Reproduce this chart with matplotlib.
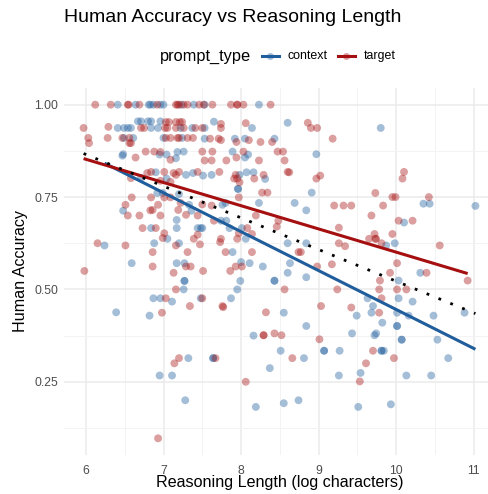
import numpy as np
import matplotlib
matplotlib.use('Agg')
import matplotlib.pyplot as plt
from matplotlib.lines import Line2D
from matplotlib.ticker import FixedLocator

plt.rcParams['font.family'] = ['Liberation Sans', 'DejaVu Sans']

title = "Human Accuracy vs Reasoning Length"
x_label = "Reasoning Length (log characters)"
y_label = "Human Accuracy"
legend_title = "prompt_type"
groups = ["context", "target"]
x_ticks = [6, 7, 8, 9, 10, 11]
y_ticks = [0.25, 0.50, 0.75, 1.00]
y_tick_labels = ["0.25", "0.50", "0.75", "1.00"]

context_points = [
    (6.41,1.0),(6.64,1.0),(6.81,1.0),(6.83,1.0),(6.87,1.0),(6.96,1.0),(7.00,1.0),(7.23,1.0),(7.39,1.0),(7.53,1.0),(8.23,1.0),
    (6.67,0.955),(6.71,0.955),(6.80,0.955),(6.84,0.955),(6.96,0.955),(7.65,0.954),(8.60,0.951),
    (6.41,0.937),(6.49,0.937),(6.54,0.937),(6.58,0.937),(6.84,0.937),(6.93,0.937),(7.22,0.937),(7.37,0.937),(7.53,0.937),(8.14,0.937),(9.80,0.937),
    (6.49,0.91),(6.61,0.91),(7.00,0.91),(7.24,0.91),(7.53,0.908),(7.92,0.908),(8.05,0.908),(8.43,0.908),
    (6.48,0.866),(6.47,0.862),(6.95,0.865),(7.04,0.865),(7.18,0.872),(7.26,0.873),(7.16,0.855),(7.89,0.873),(8.97,0.866),(8.09,0.865),(8.05,0.857),
    (6.71,0.802),(6.90,0.817),(7.04,0.80),(7.29,0.81),(7.38,0.815),(7.51,0.808),(7.62,0.81),(7.98,0.81),(8.07,0.817),(8.16,0.817),(8.31,0.799),
    (7.96,0.772),(7.96,0.772),(8.91,0.762),
    (6.92,0.761),(6.99,0.761),(7.20,0.758),(7.33,0.729),(8.23,0.734),(8.69,0.734),(7.76,0.729),(7.80,0.734),(8.84,0.714),
    (6.48,0.713),(7.36,0.713),(7.17,0.688),(7.74,0.686),(7.81,0.686),
    (6.84,0.666),(7.17,0.666),(7.44,0.666),(7.48,0.666),(7.50,0.666),(7.85,0.666),(8.01,0.666),
    (7.05,0.637),(6.88,0.625),(6.24,0.619),(7.20,0.625),(8.06,0.637),(8.60,0.625),(8.84,0.625),
    (10.10,0.681),(10.35,0.732),(10.43,0.732),(11.02,0.726),(9.87,0.619),(9.98,0.625),
    (7.89,0.601),(6.59,0.571),(7.17,0.571),(7.27,0.571),(8.00,0.574),(8.11,0.571),(8.28,0.562),(8.63,0.571),(8.60,0.545),(8.84,0.533),(8.43,0.524),
    (10.31,0.545),(10.03,0.524),
    (7.27,0.523),(7.27,0.523),(7.26,0.50),(6.87,0.476),(6.96,0.476),(7.11,0.467),(7.48,0.476),(6.39,0.438),(6.82,0.429),
    (7.99,0.523),(8.43,0.523),(7.95,0.50),(7.87,0.476),(8.55,0.437),(8.84,0.401),(8.16,0.375),(9.07,0.334),(9.07,0.334),(9.27,0.334),(8.51,0.334),
    (7.64,0.314),(7.64,0.314),(8.81,0.314),(8.37,0.287),(9.26,0.267),(7.32,0.314),(6.95,0.267),(7.11,0.267),(7.28,0.20),(8.19,0.182),(8.55,0.192),(8.74,0.20),
    (9.63,0.476),(10.03,0.476),(10.21,0.467),(9.70,0.455),(9.68,0.437),(10.01,0.437),(10.16,0.429),(10.48,0.429),(10.88,0.437),(9.49,0.429),(9.82,0.41),
    (10.01,0.401),(10.01,0.401),(9.43,0.381),(9.72,0.376),(9.74,0.381),(10.07,0.364),(10.07,0.364),(10.53,0.364),(9.81,0.334),(9.81,0.334),(9.84,0.334),
    (10.67,0.314),(9.54,0.274),(10.13,0.267),(10.45,0.267),(9.51,0.182),(9.93,0.189),
]

target_points = [
    (6.12,1.0),(6.32,1.0),(6.54,1.0),(6.55,1.0),(6.69,1.0),(6.92,1.0),(7.16,1.0),(7.18,1.0),(7.20,1.0),(7.26,1.0),(7.31,1.0),(7.46,1.0),
    (7.52,1.0),(7.63,1.0),(7.87,1.0),(7.95,1.0),(7.95,1.0),(8.03,1.0),(8.38,1.0),
    (7.03,0.953),(7.07,0.953),(7.16,0.953),(7.21,0.953),(7.24,0.953),
    (7.74,0.948),(7.74,0.937),(8.06,0.95),(8.86,0.951),(8.90,0.937),(8.98,0.937),
    (5.97,0.937),(6.29,0.94),(6.71,0.937),(6.75,0.937),(7.02,0.937),(7.05,0.937),(7.16,0.937),(7.26,0.937),(7.41,0.937),(7.50,0.937),
    (6.03,0.91),(6.28,0.91),(6.47,0.91),(6.56,0.91),(7.03,0.91),(7.09,0.91),(7.18,0.91),(7.20,0.91),(7.31,0.91),(7.38,0.91),
    (6.04,0.896),(6.56,0.896),(6.58,0.896),
    (7.60,0.908),(7.71,0.908),(7.74,0.904),(7.94,0.899),(8.10,0.904),(8.25,0.899),(8.40,0.899),(9.18,0.908),
    (6.77,0.873),(6.88,0.873),(6.96,0.872),(7.09,0.851),(6.64,0.857),
    (7.50,0.873),(7.63,0.873),(8.03,0.873),(8.47,0.873),(8.54,0.873),(7.53,0.849),(7.62,0.849),(7.81,0.849),(7.94,0.857),(8.23,0.849),(8.56,0.849),
    (6.58,0.801),(6.79,0.815),(6.84,0.818),(7.01,0.818),(7.13,0.815),(7.16,0.81),(7.20,0.818),(7.44,0.818),(6.96,0.794),(7.09,0.791),
    (7.72,0.818),(7.93,0.81),(7.91,0.80),(7.95,0.80),(8.17,0.80),(8.29,0.81),(8.60,0.818),(8.62,0.817),(8.97,0.80),(9.02,0.808),(7.98,0.79),
    (10.10,0.818),(10.08,0.80),
    (6.59,0.749),(6.84,0.749),(7.01,0.749),(7.09,0.749),(7.22,0.734),
    (7.97,0.749),(8.27,0.762),(8.34,0.762),(9.73,0.761),(9.95,0.75),(9.99,0.75),(10.42,0.75),
    (6.51,0.729),(6.93,0.729),(6.83,0.714),(6.86,0.715),(7.19,0.715),(7.50,0.73),
    (7.62,0.727),(9.20,0.727),(9.32,0.727),(9.42,0.727),(9.83,0.727),
    (9.68,0.70),(10.03,0.686),(10.21,0.686),(8.19,0.70),(7.65,0.686),(8.48,0.686),
    (6.54,0.70),(6.69,0.70),(6.96,0.70),(7.29,0.702),(7.44,0.70),
    (6.73,0.666),(6.90,0.666),(7.44,0.648),(8.08,0.666),(8.46,0.67),(7.97,0.652),(8.14,0.65),(9.26,0.667),
    (7.01,0.652),(6.99,0.639),(7.39,0.637),(7.47,0.622),(6.15,0.625),(6.51,0.619),(7.16,0.619),
    (7.74,0.637),(7.95,0.637),(7.73,0.628),(9.26,0.625),(9.34,0.617),
    (9.72,0.65),(9.65,0.637),(9.73,0.637),(9.74,0.637),(9.95,0.65),(9.81,0.625),(10.56,0.619),
    (6.86,0.601),(7.31,0.601),(7.80,0.601),(8.14,0.601),(8.74,0.601),(8.77,0.601),
    (6.86,0.562),(7.35,0.562),(7.29,0.562),(7.93,0.562),(8.01,0.562),(9.17,0.568),(8.98,0.562),(10.01,0.571),
    (5.98,0.55),(7.86,0.55),(7.51,0.55),(7.13,0.545),
    (9.92,0.545),(10.39,0.545),(9.79,0.524),(10.92,0.524),
    (9.78,0.50),(10.01,0.50),(10.13,0.50),(9.81,0.476),(9.42,0.451),(9.78,0.437),
    (8.56,0.50),(9.24,0.50),(9.03,0.455),(8.32,0.438),
    (7.16,0.50),(7.03,0.476),(7.50,0.476),(7.34,0.455),(6.98,0.437),(7.76,0.455),(7.77,0.452),
    (8.29,0.376),(8.29,0.376),(8.43,0.381),(8.52,0.376),(9.01,0.365),(7.67,0.314),(8.66,0.314),(8.06,0.25),
    (9.70,0.334),(9.97,0.314),(9.61,0.30),(9.53,0.251),
    (7.20,0.314),(7.14,0.30),(6.93,0.097),
]

colors = {"context": "#1F5D9C", "target": "#A50F0F"}
data = {"context": np.array(context_points), "target": np.array(target_points)}

W, H = 489, 494
fig = plt.figure(figsize=(W / 100, H / 100), dpi=100)

all_pts = np.vstack([data[g] for g in groups])
xmin, xmax = all_pts[:, 0].min(), all_pts[:, 0].max()
ymin, ymax = all_pts[:, 1].min(), all_pts[:, 1].max()
xr, yr = xmax - xmin, ymax - ymin
xlim = (xmin - 0.05 * xr, xmax + 0.05 * xr)
ylim = (ymin - 0.05 * yr, ymax + 0.05 * yr)

# panel in pixels (right side cropped in the reference)
left_px, right_px, top_px, bottom_px = 64, 495, 88, 455
ax = fig.add_axes([left_px / W, 1 - bottom_px / H, (right_px - left_px) / W, (bottom_px - top_px) / H])
ax.set_xlim(*xlim)
ax.set_ylim(*ylim)

for s in ax.spines.values():
    s.set_visible(False)
ax.set_facecolor('white')
ax.xaxis.set_major_locator(FixedLocator(x_ticks))
ax.xaxis.set_minor_locator(FixedLocator([5.5, 6.5, 7.5, 8.5, 9.5, 10.5, 11.5]))
ax.yaxis.set_major_locator(FixedLocator(y_ticks))
ax.yaxis.set_minor_locator(FixedLocator([0.125, 0.375, 0.625, 0.875]))
ax.set_yticklabels(y_tick_labels)
ax.grid(which='major', color='#EBEBEB', linewidth=1.1)
ax.grid(which='minor', color='#F3F3F3', linewidth=0.7)
ax.set_axisbelow(True)
ax.tick_params(which='both', length=0, labelsize=8.8, labelcolor='#4D4D4D')
ax.tick_params(axis='x', pad=7)
ax.tick_params(axis='y', pad=4)

for g in groups:
    pts = data[g]
    ax.scatter(pts[:, 0], pts[:, 1], s=32, color=colors[g], alpha=0.4, edgecolors='none', zorder=2)

for g in groups:
    pts = data[g]
    k, b = np.polyfit(pts[:, 0], pts[:, 1], 1)
    xs = np.array([pts[:, 0].min(), pts[:, 0].max()])
    ax.plot(xs, k * xs + b, color=colors[g], linewidth=2.2, solid_capstyle='butt', zorder=3)

k, b = np.polyfit(all_pts[:, 0], all_pts[:, 1], 1)
xs = np.array([xmin, xmax])
ax.plot(xs, k * xs + b, color='black', linewidth=2.0, linestyle=(0, (1, 3.6)), zorder=4)

ax.set_xlabel(x_label, fontsize=11.6, color='black', labelpad=-1)
ax.set_ylabel(y_label, fontsize=11.6, color='black', labelpad=5)

fig.text(left_px / W, 1 - 18 / H, title, fontsize=14, ha='left', va='center')

# legend at top
ly = 1 - 56 / H
fig.text(160 / W, ly, legend_title, fontsize=11.8, ha='left', va='center')
key_pos = [(262, 288), (338, 364)]
for g, (kx, tx) in zip(groups, key_pos):
    fig.add_artist(Line2D([kx / W, (kx + 17) / W], [ly, ly], color=colors[g], linewidth=2.2, transform=fig.transFigure))
    fig.add_artist(Line2D([(kx + 8.5) / W], [ly], marker='o', markersize=5, color=colors[g], alpha=0.4,
                          markeredgewidth=0, transform=fig.transFigure))
    fig.text(tx / W, ly, g, fontsize=8.9, ha='left', va='center')

fig.savefig('out.png', dpi=100)
